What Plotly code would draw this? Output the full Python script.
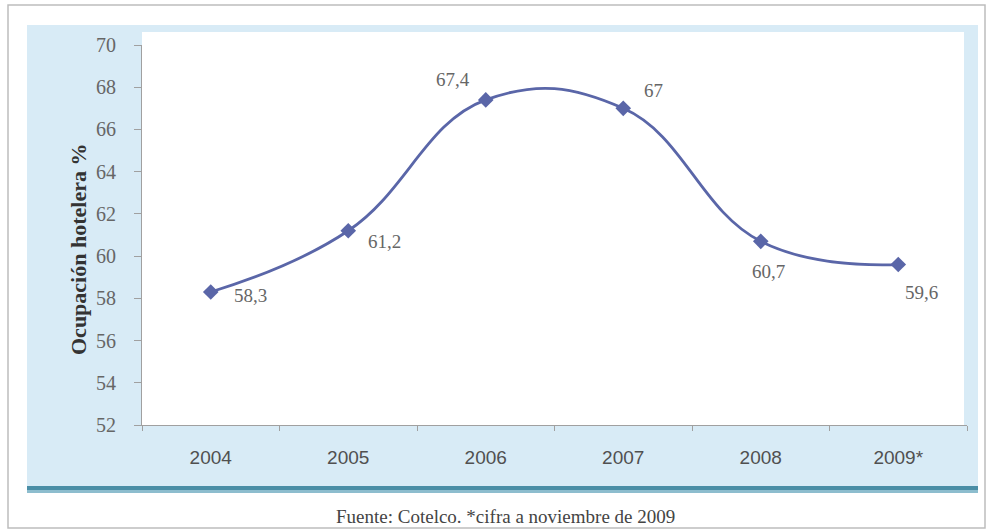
import plotly.graph_objects as go

years = ["2004", "2005", "2006", "2007", "2008", "2009*"]
ocupacion = [58.3, 61.2, 67.4, 67.0, 60.7, 59.6]
labels = ["58,3", "61,2", "67,4", "67", "60,7", "59,6"]
y_ticks = [52, 54, 56, 58, 60, 62, 64, 66, 68, 70]

# label offsets in px (style only)
label_dx = [40, 36, -33, 30, 8, 23]
label_dy = [-3, -11, 20, 18, -30, -28]

W, H = 987, 531
L, R, T, B = 142, 20, 45, 106
PW, PH = W - L - R, H - T - B


def px(x):
    return (x - L) / PW


def py(y):
    return 1 - (y - T) / PH


LINE = "#5A66A8"

fig = go.Figure()
fig.add_trace(go.Scatter(
    x=years, y=ocupacion, mode="lines+markers",
    line=dict(color=LINE, width=2.8, shape="spline", smoothing=1.2),
    marker=dict(symbol="diamond", size=12, color=LINE),
    showlegend=False, hoverinfo="skip",
))

for i, (v, t, dx, dy) in enumerate(zip(ocupacion, labels, label_dx, label_dy)):
    fig.add_annotation(x=i, y=v, text=t, showarrow=False, xshift=dx, yshift=dy,
                       xanchor="center", yanchor="middle",
                       font=dict(family="Liberation Serif", size=19, color="#666666"))

shapes = []
# outer frame
shapes.append(dict(type="rect", xref="paper", yref="paper", layer="below",
                   x0=px(8), x1=px(985), y0=py(528), y1=py(5),
                   line=dict(color="#BDBDBD", width=1.5), fillcolor="white"))
# light blue panel
shapes.append(dict(type="rect", xref="paper", yref="paper", layer="below",
                   x0=px(27), x1=px(978), y0=py(490), y1=py(25),
                   line=dict(width=0), fillcolor="#D8EBF6"))
# white plot area
shapes.append(dict(type="rect", xref="paper", yref="paper", layer="below",
                   x0=px(142), x1=px(964), y0=py(425), y1=py(32),
                   line=dict(width=0), fillcolor="white"))
# teal band at the bottom
shapes.append(dict(type="rect", xref="paper", yref="paper", layer="below",
                   x0=px(27), x1=px(978), y0=py(490), y1=py(486),
                   line=dict(width=0), fillcolor="#4A8EA6"))
shapes.append(dict(type="rect", xref="paper", yref="paper", layer="below",
                   x0=px(27), x1=px(978), y0=py(493), y1=py(490),
                   line=dict(width=0), fillcolor="#8DBDCE"))

fig.add_annotation(xref="paper", yref="paper", x=px(78), y=py(250),
                   xanchor="center", yanchor="middle",
                   text="<b>Ocupación hotelera %</b>", textangle=-90, showarrow=False,
                   font=dict(family="Liberation Serif", size=22, color="#333333"))
fig.add_annotation(xref="paper", yref="paper", x=px(505), y=py(516),
                   xanchor="center", yanchor="middle",
                   text="Fuente: Cotelco. *cifra a noviembre de 2009", showarrow=False,
                   font=dict(family="Liberation Serif", size=19, color="#444444"))

fig.update_layout(
    width=W, height=H,
    margin=dict(l=L, r=R, t=T, b=B),
    paper_bgcolor="white",
    plot_bgcolor="rgba(0,0,0,0)",
    shapes=shapes,
    xaxis=dict(type="category", range=[-0.5, 5.5], tickson="boundaries",
               showline=True, linecolor="#A0A0A0", linewidth=1.2,
               ticks="outside", ticklen=5, tickcolor="#A0A0A0",
               showgrid=False, zeroline=False, ticklabelstandoff=15,
               tickfont=dict(family="Liberation Sans", size=19, color="#505050")),
    yaxis=dict(range=[52, 70], tickvals=y_ticks,
               showline=True, linecolor="#A0A0A0", linewidth=1.2,
               ticks="outside", ticklen=7, tickcolor="#A0A0A0",
               showgrid=False, zeroline=False, ticklabelstandoff=14,
               tickfont=dict(family="Liberation Serif", size=20, color="#666666")),
)

fig.write_html("out.html")
